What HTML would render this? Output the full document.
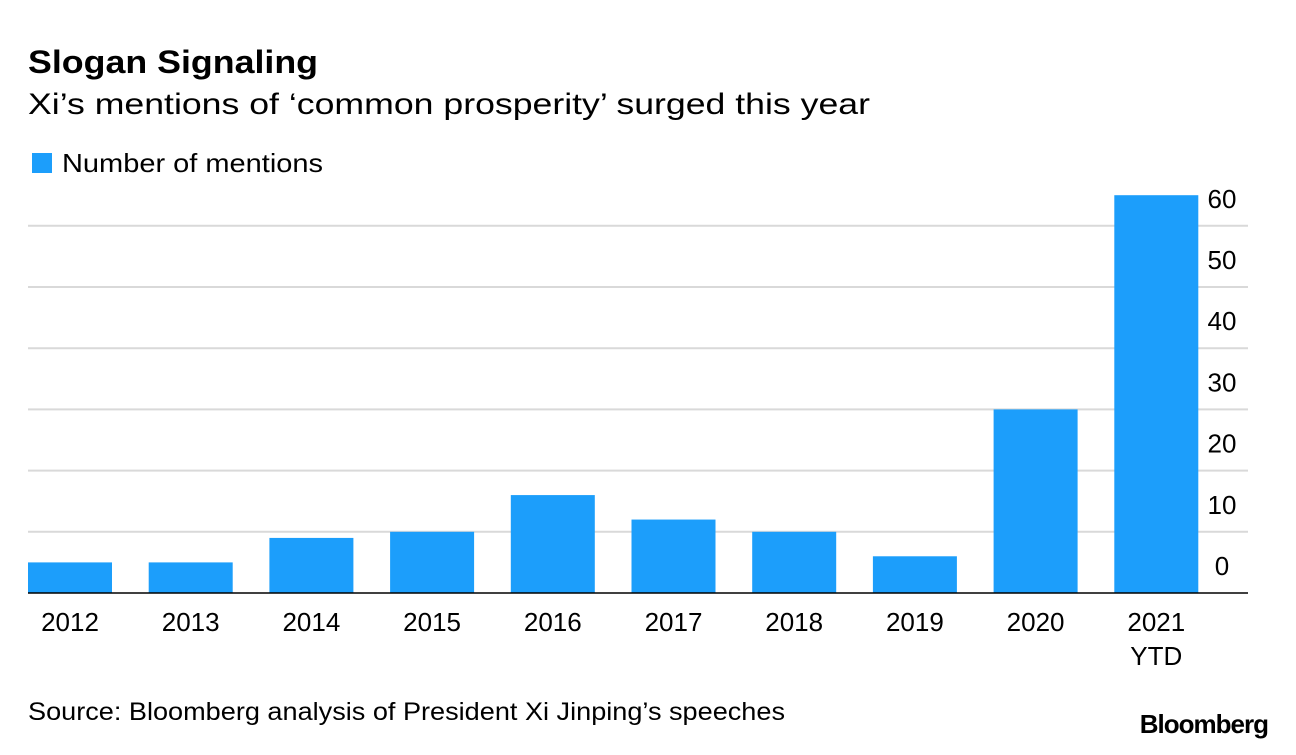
<!DOCTYPE html>
<html><head><meta charset="utf-8"><style>
body{margin:0;background:#fff;width:1296px;height:750px;overflow:hidden;font-family:"Liberation Sans",Arial,sans-serif;}
</style></head><body>
<svg width="1296" height="750">
<text x="28" y="73" font-size="32" font-weight="bold" fill="#000" textLength="290" lengthAdjust="spacingAndGlyphs">Slogan Signaling</text>
<text x="28" y="114" font-size="30" fill="#000" textLength="842" lengthAdjust="spacingAndGlyphs">Xi’s mentions of ‘common prosperity’ surged this year</text>
<rect x="32" y="153" width="20" height="20" fill="#1c9efb"/>
<text x="62" y="172" font-size="26" fill="#000" textLength="261" lengthAdjust="spacingAndGlyphs">Number of mentions</text>
<g id="grid"></g><g id="bars"></g><g id="xl"></g><g id="yl"></g>
<line x1="28" x2="1248" y1="593" y2="593" stroke="#000" stroke-width="1.5"/>
<text x="28" y="720" font-size="25" fill="#000" textLength="757" lengthAdjust="spacingAndGlyphs">Source: Bloomberg analysis of President Xi Jinping’s speeches</text>
<text x="1268" y="733" font-size="26" font-weight="bold" text-anchor="end" fill="#000" letter-spacing="-1">Bloomberg</text>
</svg>
<script>
const categories=["2012","2013","2014","2015","2016","2017","2018","2019","2020","2021"];
const subLabels=["","","","","","","","","","YTD"];
const values=[5,5,9,10,16,12,10,6,30,65];
const ticks=[0,10,20,30,40,50,60];
const NS="http://www.w3.org/2000/svg";
const y=v=>593-v*6.12;
const x=i=>28+i*120.7;
function mk(t,a,p){const e=document.createElementNS(NS,t);for(const k in a)e.setAttribute(k,a[k]);document.getElementById(p).appendChild(e);return e;}
ticks.forEach(t=>{
 if(t>0){const l=mk("line",{x1:28,x2:1248,y1:y(t),y2:y(t),stroke:"#d9d9d9","stroke-width":2},"grid");
 
 }
 const tx=mk("text",{x:1222,y:y(t)-18,"font-size":26,"text-anchor":"middle",fill:"#000"},"yl");
 tx.textContent=t;
 
 
});
values.forEach((v,i)=>{
 const r=mk("rect",{x:x(i),y:y(v),width:84,height:593-y(v),fill:"#1c9efb"},"bars");
 
 
 const t=mk("text",{x:x(i)+42,y:631,"font-size":26,"text-anchor":"middle",fill:"#000"},"xl");
 t.textContent=categories[i];
 
 
 if(subLabels[i]){const s=mk("text",{x:x(i)+42,y:665,"font-size":26,"text-anchor":"middle",fill:"#000"},"xl");
 s.textContent=subLabels[i];
 
 }
});
</script>
</body></html>
